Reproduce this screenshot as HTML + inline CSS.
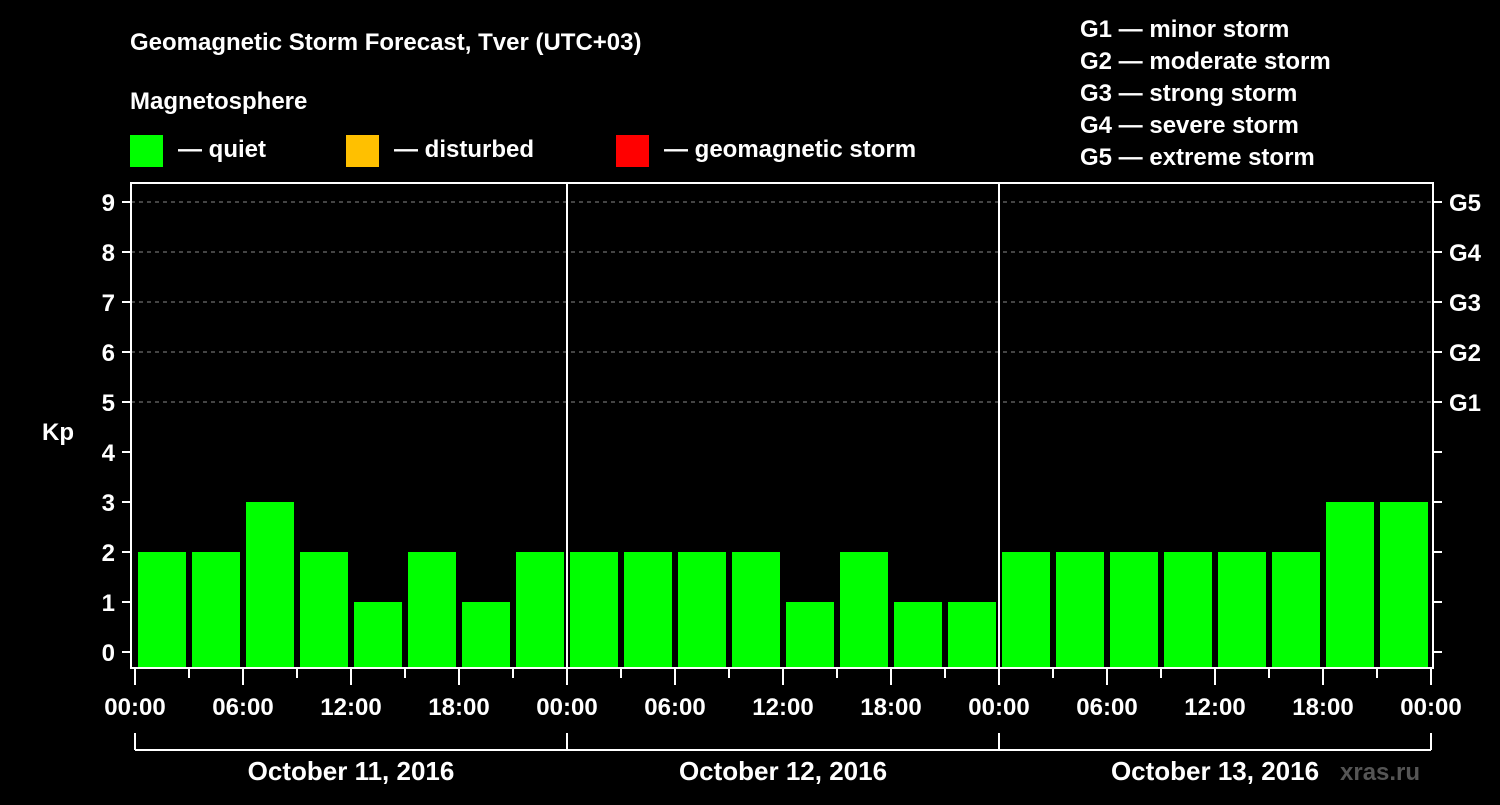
<!DOCTYPE html>
<html><head><meta charset="utf-8"><style>
body{margin:0;background:#000;}
svg text{font-family:"Liberation Sans",Arial,sans-serif;font-weight:bold;fill:#fff;}
</style></head><body>
<svg id="c" width="1500" height="800" xmlns="http://www.w3.org/2000/svg">
<rect width="1500" height="800" fill="#000"/>
<text x="130" y="50" font-size="24">Geomagnetic Storm Forecast, Tver (UTC+03)</text>
<text x="130" y="109" font-size="24">Magnetosphere</text>
<rect x="130" y="135" width="33" height="32" fill="#00ff00"/>
<text x="178" y="157" font-size="24">— quiet</text>
<rect x="346" y="135" width="33" height="32" fill="#ffc000"/>
<text x="394" y="157" font-size="24">— disturbed</text>
<rect x="616" y="135" width="33" height="32" fill="#ff0000"/>
<text x="664" y="157" font-size="24">— geomagnetic storm</text>
<g font-size="24">
<text x="1080" y="37">G1 — minor storm</text>
<text x="1080" y="69">G2 — moderate storm</text>
<text x="1080" y="101">G3 — strong storm</text>
<text x="1080" y="133">G4 — severe storm</text>
<text x="1080" y="165">G5 — extreme storm</text>
</g>
<text x="42" y="440" font-size="24">Kp</text>
<text x="1340" y="780" font-size="24" fill="#555" style="fill:#555">xras.ru</text>
<g id="grid"></g><g id="bars"></g><g id="axes"></g>
</svg>
<script>
const kpValues=[2,2,3,2,1,2,1,2, 2,2,2,2,1,2,1,1, 2,2,2,2,2,2,3,3];
const dayLabels=["October 11, 2016","October 12, 2016","October 13, 2016"];
const hourLabels=["00:00","06:00","12:00","18:00"];
const gLabels=["G1","G2","G3","G4","G5"];
const NS="http://www.w3.org/2000/svg";
const L=131,R=1433,T=183,B=668,X0=135,DAY=432;
const y=v=>652-50*v;
const x=h=>X0+h*DAY/24;
function mk(tag,attrs,parent,txt){const e=document.createElementNS(NS,tag);for(const k in attrs)e.setAttribute(k,attrs[k]);if(txt!==undefined)e.textContent=txt;parent.appendChild(e);return e;}
const grid=document.getElementById('grid'),bars=document.getElementById('bars'),axes=document.getElementById('axes');
for(let v=5;v<=9;v++){const l=mk('line',{x1:L,x2:R,y1:y(v),y2:y(v),stroke:'#888','stroke-dasharray':'4,4','stroke-width':1},grid);

}
kpValues.forEach((v,i)=>{const c=v>=5?'#ff0000':(v>=4?'#ffc000':'#00ff00');
const r=mk('rect',{x:x(i*3)+3,y:y(v),width:48,height:B-y(v),fill:c},bars);

});
mk('rect',{x:L,y:T,width:R-L,height:B-T,fill:'none',stroke:'#fff','stroke-width':2},axes);
for(let d=1;d<dayLabels.length;d++){mk('line',{x1:x(d*24),x2:x(d*24),y1:T,y2:B,stroke:'#fff','stroke-width':2},axes);}
for(let v=0;v<=9;v++){mk('line',{x1:122,x2:L,y1:y(v),y2:y(v),stroke:'#fff','stroke-width':2},axes);
mk('line',{x1:R,x2:1442,y1:y(v),y2:y(v),stroke:'#fff','stroke-width':2},axes);
const t=mk('text',{x:115,y:y(v)+9,'font-size':24,'text-anchor':'end'},axes,String(v));

}
gLabels.forEach((g,i)=>{const t=mk('text',{x:1449,y:y(5+i)+9,'font-size':24},axes,g);

});
const nd=dayLabels.length;
for(let h=0;h<=nd*24;h+=3){const major=h%6===0;
mk('line',{x1:x(h),x2:x(h),y1:B,y2:major?685:678,stroke:'#fff','stroke-width':2},axes);
if(major){const t=mk('text',{x:x(h),y:715,'font-size':24,'text-anchor':'middle'},axes,hourLabels[(h/6)%4]);

}}
mk('line',{x1:x(0),x2:x(nd*24),y1:750,y2:750,stroke:'#fff','stroke-width':2},axes);
for(let d=0;d<=nd;d++)mk('line',{x1:x(d*24),x2:x(d*24),y1:733,y2:750,stroke:'#fff','stroke-width':2},axes);
dayLabels.forEach((s,d)=>{const t=mk('text',{x:x(d*24+12),y:780,'font-size':26,'text-anchor':'middle'},axes,s);

});
</script>
</body></html>
